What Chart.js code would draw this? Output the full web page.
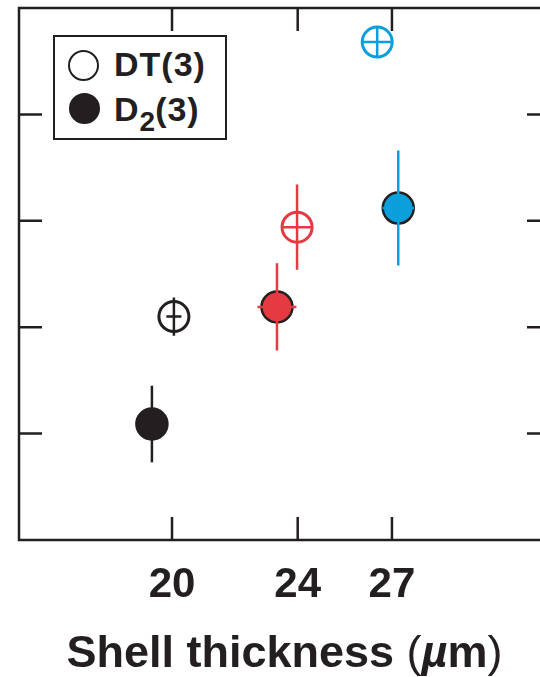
<!DOCTYPE html>
<html>
<head>
<meta charset="utf-8">
<script src="https://cdn.jsdelivr.net/npm/chart.js@4"></script>
<style>
  body { margin: 0; background: #fff; }
  #wrap { position: relative; width: 540px; height: 677px; overflow: hidden; font-family: "Liberation Sans", Arial, sans-serif; color: #231f20; }
  #chart { position: absolute; left: 0; top: 0; }
  .legend { position: absolute; left: 53px; top: 35px; width: 174px; height: 105px; box-sizing: border-box; border: 2.5px solid #231f20; background: #fff; }
  .mark { position: absolute; box-sizing: border-box; width: 31px; height: 31px; border-radius: 50%; border: 2.5px solid #231f20; }
  .lbl { position: absolute; font-weight: bold; font-size: 34px; line-height: 34px; letter-spacing: 1px; white-space: nowrap; }
  .lbl sub { font-size: 28px; vertical-align: -10px; line-height: 0; letter-spacing: 0; }
  .xtitle { position: absolute; left: 19px; width: 531px; top: 629px; text-align: center; font-weight: bold; font-size: 45px; line-height: 45px; white-space: nowrap; }
  .xtitle .p { font-weight: normal; }
  .xtitle i { font-weight: bold; }
</style>
</head>
<body>
<div id="wrap">
  <canvas id="chart" width="560" height="677"></canvas>
  <div class="legend">
    <span class="mark" style="left:13px; top:13px; background:#fff;"></span>
    <span class="lbl" style="left:59px; top:10px;">DT(3)</span>
    <span class="mark" style="left:14px; top:56px; background:#231f20;"></span>
    <span class="lbl" style="left:59px; top:55px;">D<sub>2</sub>(3)</span>
  </div>
  <div class="xtitle">Shell thickness <span class="p">(</span><i>µ</i>m<span class="p">)</span></div>
</div>
<script>
// values
const seriesColors = ['#231f20', '#e63a43', '#0b9fdc'];

// DT(3), open markers
const dtThickness = [20.06, 23.98, 26.53];
const dtYield = [2.10, 2.94, 4.68];
const dtYErr = [0.18, 0.40, 0.14];
const dtXErr = [0.24, 0.50, 0.48];

// D2(3), filled markers
const d2Thickness = [19.36, 23.34, 27.2];
const d2Yield = [1.09, 2.19, 3.12];
const d2YErr = [0.36, 0.41, 0.54];
const d2XErr = [0, 0.62, 0.5];

const xTicks = [20, 24, 27];
const yTicks = [1, 2, 3, 4];

const ink = '#231f20';

function points(xs, ys, yErr, xErr) {
    return xs.map((v, i) => ({ x: v, y: ys[i], yErr: yErr[i], xErr: xErr[i] }));
}

// error bars drawn on top of the markers
const errorBars = {
    id: 'errorBars',
    afterDatasetsDraw(chart) {
        const ctx = chart.ctx;
        const x = chart.scales.x, y = chart.scales.y;
        chart.data.datasets.forEach((ds) => {
            ds.data.forEach((p, i) => {
                const px = x.getPixelForValue(p.x);
                const py = y.getPixelForValue(p.y);
                ctx.save();
                ctx.strokeStyle = seriesColors[i];
                ctx.lineWidth = 2.5;
                ctx.beginPath();
                ctx.moveTo(px, y.getPixelForValue(p.y - p.yErr));
                ctx.lineTo(px, y.getPixelForValue(p.y + p.yErr));
                if (p.xErr) {
                    ctx.moveTo(x.getPixelForValue(p.x - p.xErr), py);
                    ctx.lineTo(x.getPixelForValue(p.x + p.xErr), py);
                }
                ctx.stroke();
                ctx.restore();
            });
        });
    }
};

// box frame with inward ticks on all four sides
const frame = {
    id: 'frame',
    afterDraw(chart) {
        const ctx = chart.ctx;
        const a = chart.chartArea;
        const x = chart.scales.x, y = chart.scales.y;
        const len = 23;
        ctx.save();
        ctx.strokeStyle = ink;
        ctx.lineWidth = 2.5;
        ctx.strokeRect(a.left, a.top, a.right - a.left, a.bottom - a.top);
        ctx.beginPath();
        xTicks.forEach((v) => {
            const px = x.getPixelForValue(v);
            ctx.moveTo(px, a.bottom); ctx.lineTo(px, a.bottom - len);
            ctx.moveTo(px, a.top); ctx.lineTo(px, a.top + len);
        });
        yTicks.forEach((v) => {
            const py = y.getPixelForValue(v);
            ctx.moveTo(a.left, py); ctx.lineTo(a.left + len, py);
            ctx.moveTo(a.right, py); ctx.lineTo(a.right - len, py);
        });
        ctx.stroke();
        ctx.restore();
    }
};

const ctx = document.getElementById('chart').getContext('2d');
const chart = new Chart(ctx, {
    type: 'scatter',
    data: {
        datasets: [{
            label: 'DT(3)',
            data: points(dtThickness, dtYield, dtYErr, dtXErr),
            pointRadius: 15,
            pointBorderWidth: 3,
            pointBackgroundColor: 'rgba(255,255,255,0)',
            pointBorderColor: seriesColors
        }, {
            label: 'D2(3)',
            data: points(d2Thickness, d2Yield, d2YErr, d2XErr),
            pointRadius: 15.5,
            pointBorderWidth: 2.5,
            pointBackgroundColor: seriesColors,
            pointBorderColor: ink
        }]
    },
    options: {
        responsive: false,
        animation: false,
        layout: { autoPadding: false, padding: { left: 19, top: 8, right: 10, bottom: 0 } },
        plugins: { legend: { display: false }, tooltip: { enabled: false } },
        scales: {
            x: {
                type: 'linear',
                min: 15.13,
                max: 32.03,
                afterBuildTicks: (s) => { s.ticks = xTicks.map((v) => ({ value: v })); },
                afterFit: (s) => { s.height = 137; },
                grid: { display: false, drawTicks: false },
                border: { display: false },
                ticks: {
                    autoSkip: false,
                    maxRotation: 0,
                    padding: 20,
                    color: ink,
                    font: { family: '"Liberation Sans", Arial, sans-serif', size: 42, weight: 'bold' },
                    callback: (v) => v
                }
            },
            y: {
                min: 0,
                max: 5,
                afterBuildTicks: (s) => { s.ticks = yTicks.map((v) => ({ value: v })); },
                afterFit: (s) => { s.width = 0; },
                grid: { display: false, drawTicks: false },
                border: { display: false },
                ticks: { display: false }
            }
        }
    },
    plugins: [errorBars, frame]
});
</script>
</body>
</html>
